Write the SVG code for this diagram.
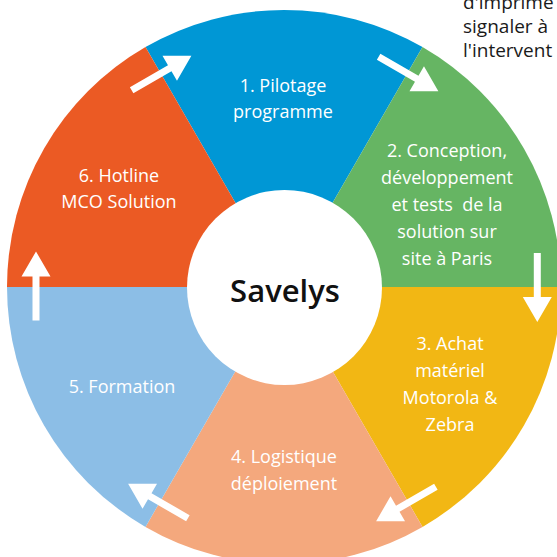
<svg xmlns="http://www.w3.org/2000/svg" xmlns:xlink="http://www.w3.org/1999/xlink" width="557" height="557" viewBox="0 0 557 557">
<style>
.lbl{font-family:"Open Sans","Liberation Sans",sans-serif;font-size:18px;fill:#ffffff;text-anchor:middle}
.ctr{font-family:"Open Sans","Liberation Sans",sans-serif;font-size:31px;font-weight:600;fill:#111111;text-anchor:middle}
.side{font-family:"Open Sans","Liberation Sans",sans-serif;font-size:19px;fill:#1a1a1a}
.arr{fill:#ffffff}
</style>
<defs>
<path id="arrow" d="M-34.5,-3.5 L9.5,-3.5 L9.5,-14.5 L34.5,0 L9.5,14.5 L9.5,3.5 L-34.5,3.5 Z"/>
</defs>
<rect width="557" height="557" fill="#ffffff"/>
<g id="side-text">
<text class="side" x="463" y="9">d'imprime</text>
<text class="side" x="463" y="33">signaler à</text>
<text class="side" x="463" y="57">l'intervent</text>
</g>
<g id="step1">
<path d="M284,287 L145.5,47.1 A277,277 0 0 1 422.5,47.1 Z" fill="#0097d5"/>
<text class="lbl" x="283" y="92">1. Pilotage</text>
<text class="lbl" x="283" y="118">programme</text>
</g>
<g id="step2">
<path d="M284,287 L422.5,47.1 A277,277 0 0 1 561,287 Z" fill="#66b563"/>
<text class="lbl" x="447" y="157">2. Conception,</text>
<text class="lbl" x="447" y="184">développement</text>
<text class="lbl" x="447" y="211" style="white-space:pre">et tests  de la</text>
<text class="lbl" x="447" y="238">solution sur</text>
<text class="lbl" x="447" y="265">site à Paris</text>
</g>
<g id="step3">
<path d="M284,287 L561,287 A277,277 0 0 1 422.5,526.9 Z" fill="#f2b714"/>
<text class="lbl" x="450" y="350">3. Achat</text>
<text class="lbl" x="450" y="377">matériel</text>
<text class="lbl" x="450" y="404">Motorola &amp;</text>
<text class="lbl" x="450" y="431">Zebra</text>
</g>
<g id="step4">
<path d="M284,287 L422.5,526.9 A277,277 0 0 1 145.5,526.9 Z" fill="#f4a87d"/>
<text class="lbl" x="284" y="463">4. Logistique</text>
<text class="lbl" x="284" y="490">déploiement</text>
</g>
<g id="step5">
<path d="M284,287 L145.5,526.9 A277,277 0 0 1 7,287 Z" fill="#8cbee6"/>
<text class="lbl" x="122" y="393">5. Formation</text>
</g>
<g id="step6">
<path d="M284,287 L7,287 A277,277 0 0 1 145.5,47.1 Z" fill="#eb5a24"/>
<text class="lbl" x="119" y="182">6. Hotline</text>
<text class="lbl" x="119" y="208">MCO Solution</text>
</g>
<g id="center">
<circle cx="284.5" cy="287.5" r="97.5" fill="#ffffff"/>
<text class="ctr" x="285" y="302">Savelys</text>
</g>
<g id="connectors">
<use xlink:href="#arrow" class="arr" transform="translate(161.5,73) rotate(-30)"/>
<use xlink:href="#arrow" class="arr" transform="translate(408.5,74) rotate(30)"/>
<use xlink:href="#arrow" class="arr" transform="translate(537.3,287.5) rotate(90)"/>
<use xlink:href="#arrow" class="arr" transform="translate(406,504) rotate(150)"/>
<use xlink:href="#arrow" class="arr" transform="translate(158,501) rotate(210)"/>
<use xlink:href="#arrow" class="arr" transform="translate(36,286) rotate(-90)"/>
</g>
</svg>
